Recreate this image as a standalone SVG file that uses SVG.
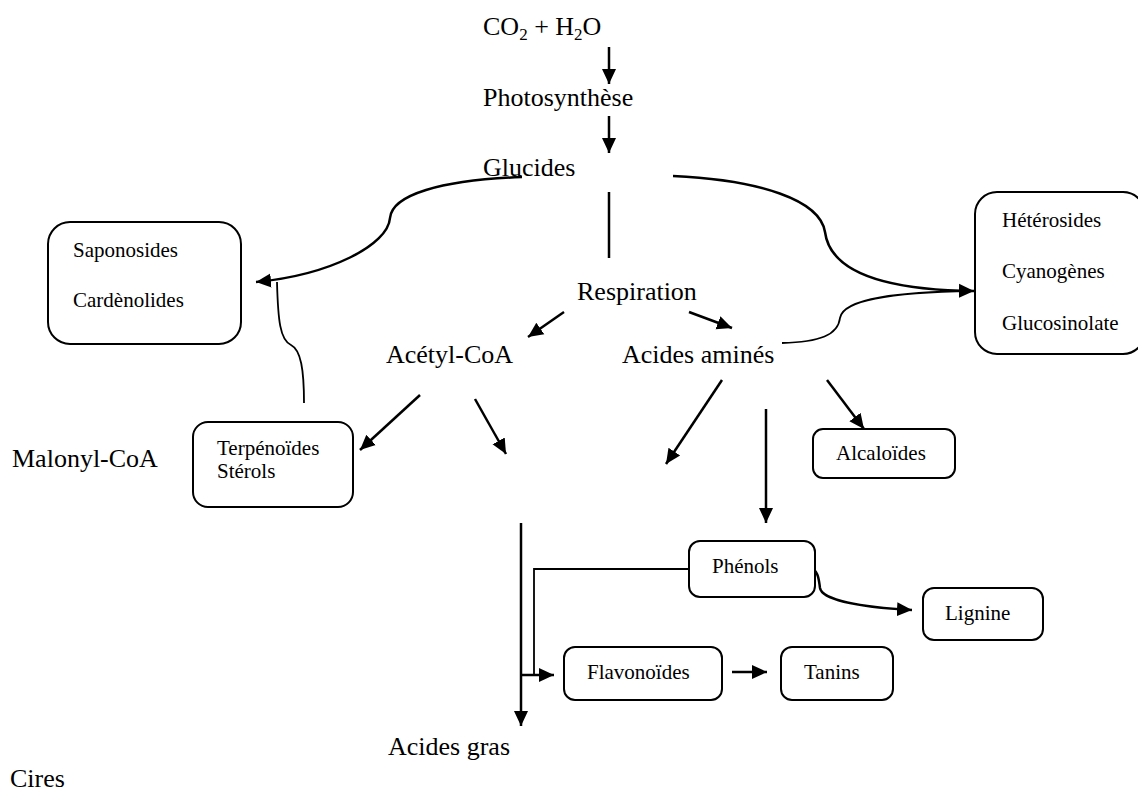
<svg xmlns="http://www.w3.org/2000/svg" width="1138" height="794" viewBox="0 0 1138 794">
<style>
.t{font-family:"Liberation Serif","Times New Roman",serif;font-size:26px;fill:#000}
.s{font-family:"Liberation Serif","Times New Roman",serif;font-size:21px;fill:#000}
.box{fill:#fff;stroke:#000;stroke-width:2}
.c{fill:none;stroke:#000;stroke-width:2.5}
.thin{fill:none;stroke:#000;stroke-width:1.8}
</style>
<defs>
<marker id="ah" markerUnits="userSpaceOnUse" markerWidth="16" markerHeight="16" refX="15" refY="7" orient="auto" viewBox="0 0 16 14">
<path d="M0,0 L15,7 L0,14 z" fill="#000"/>
</marker>
</defs>
<rect width="1138" height="794" fill="#fff"/>

<g id="connectors">
<line class="c" x1="609" y1="47" x2="609" y2="84" marker-end="url(#ah)"/>
<line class="c" x1="609" y1="116" x2="609" y2="153" marker-end="url(#ah)"/>
<line class="c" x1="609" y1="192" x2="609" y2="258"/>
<path class="c" d="M522,177 C440,180 392,195 390,218 C388,245 330,275 256,282" marker-end="url(#ah)"/>
<path class="thin" d="M304,403 C304,370 301,350 291,345 C280,340 278,320 277,282"/>
<path class="c" d="M673,176 C760,180 820,200 825,232 C830,270 880,290 974,291" marker-end="url(#ah)"/>
<path class="thin" d="M782,343 C820,342 838,335 840,318 C843,298 900,292 972,291"/>
<line class="c" x1="564" y1="312" x2="528" y2="337" marker-end="url(#ah)"/>
<line class="c" x1="689" y1="312" x2="732" y2="328" marker-end="url(#ah)"/>
<line class="c" x1="420" y1="395" x2="360" y2="450" marker-end="url(#ah)"/>
<line class="c" x1="475" y1="399" x2="506" y2="454" marker-end="url(#ah)"/>
<line class="c" x1="722" y1="380" x2="666" y2="464" marker-end="url(#ah)"/>
<line class="c" x1="766" y1="409" x2="766" y2="523" marker-end="url(#ah)"/>
<line class="c" x1="827" y1="380" x2="864" y2="429" marker-end="url(#ah)"/>
<line class="c" x1="521" y1="523" x2="521" y2="726" marker-end="url(#ah)"/>
<polyline class="thin" points="689,569 534,569 534,675"/>
<line class="c" x1="521" y1="675" x2="554" y2="675" marker-end="url(#ah)"/>
<path class="c" d="M813,569 C818,572 819,580 820,588 C822,600 860,607 912,610" marker-end="url(#ah)"/>
<line class="c" x1="732" y1="672" x2="767" y2="672" marker-end="url(#ah)"/>
</g>

<g id="co2">
<text class="t" x="483" y="35">CO<tspan font-size="17" dy="5">2</tspan><tspan dy="-5"> + H</tspan><tspan font-size="17" dy="5">2</tspan><tspan dy="-5">O</tspan></text>
</g>
<g id="photosynthese"><text class="t" x="483" y="106">Photosynthèse</text></g>
<g id="glucides"><text class="t" x="483" y="176">Glucides</text></g>
<g id="respiration"><text class="t" x="577" y="300">Respiration</text></g>
<g id="acetylcoa"><text class="t" x="386" y="363">Acétyl-CoA</text></g>
<g id="acidesamines"><text class="t" x="622" y="363">Acides aminés</text></g>
<g id="malonylcoa"><text class="t" x="12" y="467">Malonyl-CoA</text></g>
<g id="acidesgras"><text class="t" x="388" y="755">Acides gras</text></g>
<g id="cires"><text class="t" x="10" y="787">Cires</text></g>

<g id="saponosides">
<rect class="box" x="48" y="222" width="193" height="122" rx="22"/>
<text class="s" x="73" y="257">Saponosides</text>
<text class="s" x="73" y="307">Cardènolides</text>
</g>
<g id="heterosides">
<rect class="box" x="975" y="192" width="170" height="162" rx="22"/>
<text class="s" x="1002" y="227">Hétérosides</text>
<text class="s" x="1002" y="278">Cyanogènes</text>
<text class="s" x="1002" y="330">Glucosinolate</text>
</g>
<g id="terpenoides">
<rect class="box" x="193" y="422" width="160" height="85" rx="15"/>
<text class="s" x="217" y="455">Terpénoïdes</text>
<text class="s" x="217" y="478">Stérols</text>
</g>
<g id="alcaloides">
<rect class="box" x="813" y="429" width="142" height="49" rx="10"/>
<text class="s" x="836" y="460">Alcaloïdes</text>
</g>
<g id="phenols">
<rect class="box" x="689" y="541" width="126" height="56" rx="11"/>
<text class="s" x="712" y="573">Phénols</text>
</g>
<g id="lignine">
<rect class="box" x="923" y="588" width="120" height="52" rx="11"/>
<text class="s" x="945" y="620">Lignine</text>
</g>
<g id="flavonoides">
<rect class="box" x="564" y="647" width="158" height="53" rx="11"/>
<text class="s" x="587" y="679">Flavonoïdes</text>
</g>
<g id="tanins">
<rect class="box" x="781" y="647" width="112" height="53" rx="11"/>
<text class="s" x="804" y="679">Tanins</text>
</g>
</svg>
